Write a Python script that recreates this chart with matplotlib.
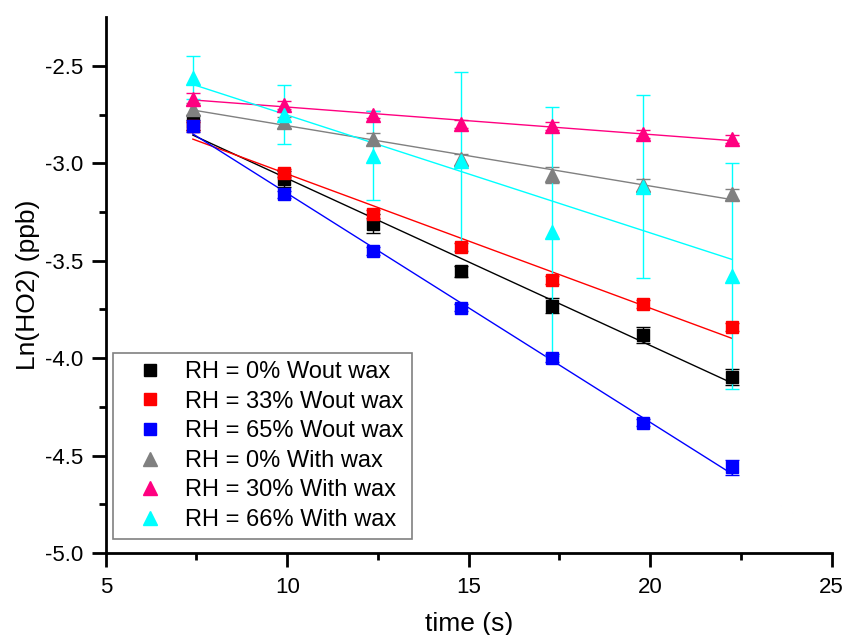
import numpy as np
import matplotlib
matplotlib.use("Agg")
import matplotlib.pyplot as plt

plt.rcParams['font.family'] = ['Liberation Sans', 'DejaVu Sans']

# time points (s)
t = [7.4, 9.9, 12.35, 14.8, 17.3, 19.8, 22.25]

labels = ["RH = 0% Wout wax", "RH = 33% Wout wax", "RH = 65% Wout wax",
          "RH = 0% With wax", "RH = 30% With wax", "RH = 66% With wax"]
colors = ["#000000", "#ff0000", "#0000ff", "#808080", "#ff0080", "#00ffff"]
markers = ["s", "s", "s", "^", "^", "^"]

y_rh0_wout = [-2.79, -3.08, -3.31, -3.555, -3.73, -3.88, -4.095]
y_rh33_wout = [-2.81, -3.05, -3.26, -3.43, -3.60, -3.72, -3.84]
y_rh65_wout = [-2.81, -3.16, -3.45, -3.74, -4.00, -4.33, -4.56]
y_rh0_with = [-2.72, -2.79, -2.875, -2.98, -3.06, -3.11, -3.16]
y_rh30_with = [-2.67, -2.70, -2.75, -2.80, -2.81, -2.85, -2.875]
y_rh66_with = [-2.56, -2.75, -2.96, -2.99, -3.35, -3.12, -3.58]

e_rh0_wout = [0.04, 0.04, 0.05, 0.03, 0.04, 0.04, 0.04]
e_rh33_wout = [0.02, 0.02, 0.02, 0.02, 0.02, 0.02, 0.02]
e_rh65_wout = [0.03, 0.02, 0.02, 0.02, 0.02, 0.02, 0.04]
e_rh0_with = [0.03, 0.03, 0.03, 0.03, 0.04, 0.03, 0.03]
e_rh30_with = [0.03, 0.02, 0.02, 0.02, 0.02, 0.02, 0.02]
e_rh66_with = [0.11, 0.15, 0.23, 0.46, 0.64, 0.47, 0.58]

ys = [y_rh0_wout, y_rh33_wout, y_rh65_wout, y_rh0_with, y_rh30_with, y_rh66_with]
es = [e_rh0_wout, e_rh33_wout, e_rh65_wout, e_rh0_with, e_rh30_with, e_rh66_with]

fig = plt.figure(figsize=(8.46, 6.35), dpi=100)
ax = fig.add_axes([0.125, 0.129, 0.858, 0.844])

tt = np.array(t)
for y, e, c, m, lab in zip(ys, es, colors, markers, labels):
    ms = 9 if m == "s" else 10
    ax.errorbar(t, y, yerr=e, fmt=m, color=c, ms=ms, capsize=5, elinewidth=1,
                capthick=1, label=lab, zorder=3)
    # linear fit line
    p = np.polyfit(tt, y, 1)
    ax.plot(tt, np.polyval(p, tt), "-", color=c, lw=1, zorder=2)

ax.set_xlim(5, 25)
ax.set_ylim(-5.0, -2.25)
ax.set_xticks([5, 10, 15, 20, 25])
ax.set_xticks([7.5, 12.5, 17.5, 22.5], minor=True)
ax.set_yticks([-5.0, -4.5, -4.0, -3.5, -3.0, -2.5])
ax.set_yticks([-4.75, -4.25, -3.75, -3.25, -2.75], minor=True)
ax.set_yticklabels(["-5.0", "-4.5", "-4.0", "-3.5", "-3.0", "-2.5"])

for s in ["top", "right"]:
    ax.spines[s].set_visible(False)
for s in ["left", "bottom"]:
    ax.spines[s].set_linewidth(2)

ax.tick_params(which="major", direction="out", length=10, width=2, labelsize=16)
ax.tick_params(which="minor", direction="out", length=5, width=2)
ax.tick_params(axis="x", pad=7)
ax.tick_params(axis="y", pad=6)

ax.set_xlabel("time (s)", fontsize=19, labelpad=10)
ax.set_ylabel("Ln(HO2) (ppb)", fontsize=19, labelpad=4)

# legend with markers only
handles = []
for c, m, lab in zip(colors, markers, labels):
    h, = ax.plot([], [], m, color=c, ms=8 if m == "s" else 10, label=lab)
    handles.append(h)
leg = ax.legend(handles=handles, loc="lower left", fontsize=17, frameon=True,
                fancybox=False, edgecolor="#808080", framealpha=1,
                handlelength=2.4, handletextpad=0.3, labelspacing=0.32,
                borderpad=0.35, borderaxespad=0,
                bbox_to_anchor=(0.01, 0.026))
leg.get_frame().set_linewidth(1.2)

fig.savefig("out.png", dpi=100)
